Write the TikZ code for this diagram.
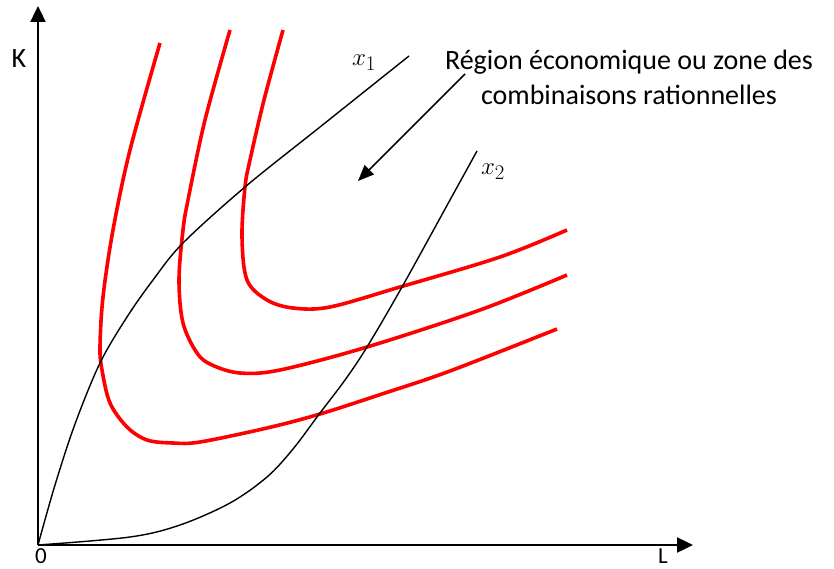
\documentclass[tikz,border=0pt]{standalone}
\usepackage{fontspec}
\setmainfont{Carlito}
\usetikzlibrary{arrows.meta}

\begin{document}
\begin{tikzpicture}[
    x=1pt, y=-1pt,
    axis/.style={line width=2.4pt, -{Triangle[length=16pt, width=15pt]}},
    isoq/.style={draw=red, line width=3.6pt, smooth, tension=0.55},
    ray/.style={line width=1.4pt, smooth, tension=0.55},
    lbl/.style={font=\fontsize{28}{35}\selectfont},
    tick/.style={font=\fontsize{23}{28}\selectfont, inner sep=0pt},
    >=Triangle
  ]
  \useasboundingbox (0,0) rectangle (834,569);

  % Axes
  \coordinate (O) at (38,545);
  \coordinate (Ktip) at (38,6);
  \coordinate (Ltip) at (693,545);
  \draw[axis] (O) -- (Ktip);
  \draw[axis] (O) -- (Ltip);
  \node[lbl] (K) at (19,59) {K};
  \node[tick] (zero) at (41,556) {0};
  \node[tick] (L) at (663,556) {L};

  % Isoquants
  \draw[isoq] plot coordinates {(160,43) (130,150) (113,230) (103,297) (100,347)
    (102,370) (110,403) (127,427) (147,440) (173,443) (200,442) (267,428)
    (320,414) (385,393) (450,371) (557,329)};
  \draw[isoq] plot coordinates {(230,30) (205,120) (188,200) (183,230) (179,280)
    (183,323) (197,353) (212,365) (240,373) (280,370) (367,347) (480,310) (567,275)};
  \draw[isoq] plot coordinates {(283,30) (264,100) (250,160) (245,187) (242,237)
    (247,280) (267,300) (293,308) (330,307) (400,287) (500,257) (567,230)};

  % Ridge lines
  \draw[ray] plot coordinates {(38,545) (55,485) (75,424) (100,363) (127,317)
    (153,280) (183,243) (245,187) (320,127) (409,56)};
  \draw[ray] plot coordinates {(38,545) (130,537) (180,525) (230,503) (267,477)
    (293,449) (320,413) (345,380) (367,347) (402,287) (450,200) (477,151)};
  \node[lbl] (x1) at (364,63) {$x_1$};
  \node[lbl] (x2) at (493,172) {$x_2$};

  % Region label
  \node[lbl, align=center] (region) at (629,77)
    {Région économique ou zone des\\combinaisons rationnelles};
  \coordinate (arrS) at (465,74);
  \coordinate (arrE) at (358,181);
  \draw[line width=1.6pt, -{Triangle[length=16pt, width=13pt]}] (arrS) -- (arrE);

\end{tikzpicture}
\end{document}
